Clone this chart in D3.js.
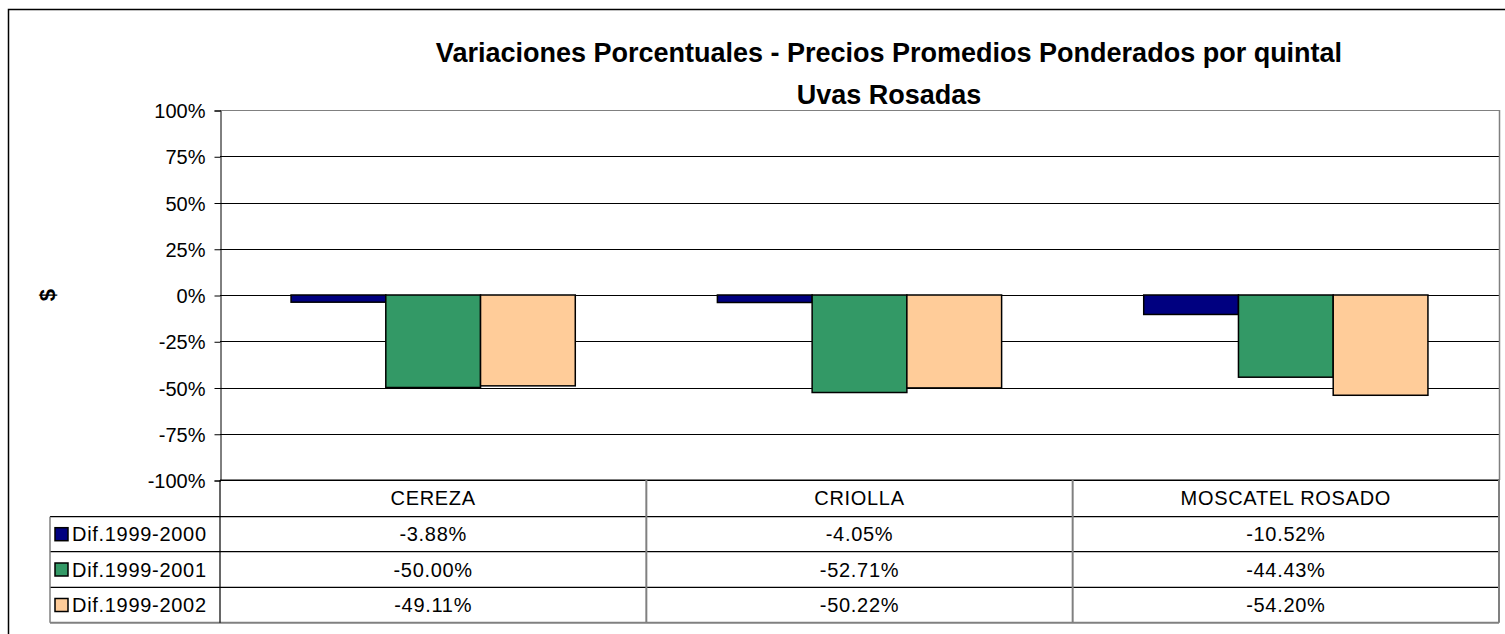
<!DOCTYPE html>
<html>
<head>
<meta charset="utf-8">
<script src="https://cdn.jsdelivr.net/npm/d3@7"></script>
<style>
body{margin:0;background:#fff;}
svg text{font-family:"Liberation Sans",Arial,sans-serif;fill:#000;}
</style>
</head>
<body>
<svg id="basicSVG" width="1505" height="634"></svg>
<script>
// datos
var categorias = ["CEREZA","CRIOLLA","MOSCATEL ROSADO"];
var series = ["Dif.1999-2000","Dif.1999-2001","Dif.1999-2002"];
var dif2000 = [-3.88,-4.05,-10.52];
var dif2001 = [-50.00,-52.71,-44.43];
var dif2002 = [-49.11,-50.22,-54.20];
var ticks = [-100,-75,-50,-25,0,25,50,75,100];
var colores = ["#000080","#339966","#FFCC99"];
var valores = [dif2000,dif2001,dif2002];

var svg = d3.select("#basicSVG");
var plotLeft = 220, plotRight = 1499, plotTop = 110, plotBottom = 480;
var rowH = [480,516.7,551.7,587.3,622.7];

// marco exterior
svg.append("rect").attr("x",8.5).attr("y",9.5).attr("width",1520).attr("height",700)
	.attr("fill","none").attr("stroke","#000").attr("stroke-width",1.5);

var x = d3.scaleBand().domain(categorias).range([plotLeft,plotRight]);
var y = d3.scaleLinear().domain([-100,100]).range([plotBottom,plotTop]);
var barW = x.bandwidth()/4.5;
var xs = d3.scaleBand().domain(series).range([0,barW*3]);

// lineas de division
svg.append("g").selectAll("line").data(ticks).enter().append("line")
	.attr("x1",plotLeft).attr("x2",plotRight)
	.attr("y1",function(d){return Math.round(y(d))+0.5;})
	.attr("y2",function(d){return Math.round(y(d))+0.5;})
	.attr("stroke",function(d){return d==100?"#808080":"#000";})
	.attr("stroke-width",1);
svg.append("line").attr("x1",plotRight+0.5).attr("x2",plotRight+0.5).attr("y1",plotTop).attr("y2",plotBottom)
	.attr("stroke","#808080").attr("stroke-width",1.5);

// eje y
var yAxis = d3.axisLeft(y).tickValues(ticks).tickSize(6).tickPadding(9)
	.tickFormat(function(d){return d+"%";});
var gy = svg.append("g").attr("transform","translate("+(plotLeft+0.5)+",0.5)").call(yAxis);
gy.select(".domain").attr("stroke","#000");
gy.selectAll(".tick line").attr("stroke","#000");
gy.selectAll("text").attr("font-size",20).attr("fill","#000")
	.attr("font-family","Liberation Sans, Arial, sans-serif").attr("dy","0.35em");

// titulo eje
svg.append("text").text("$").attr("transform","translate(47,295) rotate(-90)")
	.attr("text-anchor","middle").attr("dy","0.35em").attr("font-size",22).attr("font-weight","bold");

// barras
for(var s in series)
{
	svg.append("g").selectAll("rect").data(valores[s]).enter().append("rect")
		.attr("x",function(d,i){return x(categorias[i])+barW*0.75+xs(series[s]);})
		.attr("y",function(d){return y(Math.max(0,d));})
		.attr("width",xs.bandwidth())
		.attr("height",function(d){return Math.abs(y(d)-y(0));})
		.attr("fill",colores[s]).attr("stroke","#000").attr("stroke-width",1.5);
}

// titulo
svg.append("text").text("Variaciones Porcentuales - Precios Promedios Ponderados por quintal")
	.attr("x",889).attr("y",62).attr("text-anchor","middle").attr("font-size",27).attr("font-weight","bold");
svg.append("text").text("Uvas Rosadas")
	.attr("x",889).attr("y",104).attr("text-anchor","middle").attr("font-size",27).attr("font-weight","bold");

// tabla de datos
var tabla = svg.append("g").attr("font-size",20).attr("letter-spacing",0.7);
for(var r=0;r<rowH.length;r++)
{
	var x1 = r==0?plotLeft:50;
	tabla.append("line").attr("x1",x1).attr("x2",plotRight).attr("y1",rowH[r]).attr("y2",rowH[r])
		.attr("stroke",r==rowH.length-1?"#808080":"#000").attr("stroke-width",r==rowH.length-1?2:1.2);
}
tabla.append("line").attr("x1",50).attr("x2",50).attr("y1",rowH[1]).attr("y2",rowH[4])
	.attr("stroke","#808080").attr("stroke-width",1.5);
var cortes = [plotLeft].concat(categorias.map(function(c){return x(c)+x.bandwidth();}));
for(var c in cortes)
{
	tabla.append("line").attr("x1",cortes[c]).attr("x2",cortes[c]).attr("y1",rowH[0]).attr("y2",rowH[4])
		.attr("stroke",c==0?"#000":"#808080").attr("stroke-width",c==0?1.2:2);
}
tabla.selectAll("text.cat").data(categorias).enter().append("text").attr("class","cat")
	.text(function(d){return d;})
	.attr("x",function(d){return x(d)+x.bandwidth()/2;})
	.attr("y",(rowH[0]+rowH[1])/2).attr("dy","0.35em").attr("text-anchor","middle");
for(var s in series)
{
	var s0 = +s;
	var yc = (rowH[s0+1]+rowH[s0+2])/2;
	tabla.selectAll("text.v"+s).data(valores[s]).enter().append("text").attr("class","v"+s)
		.text(function(d){return d.toFixed(2)+"%";})
		.attr("x",function(d,i){return x(categorias[i])+x.bandwidth()/2;})
		.attr("y",yc).attr("dy","0.35em").attr("text-anchor","middle");
	tabla.append("rect").attr("x",55).attr("y",yc-6.5).attr("width",13).attr("height",13)
		.attr("fill",colores[s]).attr("stroke","#000").attr("stroke-width",1.5);
	tabla.append("text").text(series[s]).attr("x",72).attr("y",yc).attr("dy","0.35em");
}
</script>
</body>
</html>
